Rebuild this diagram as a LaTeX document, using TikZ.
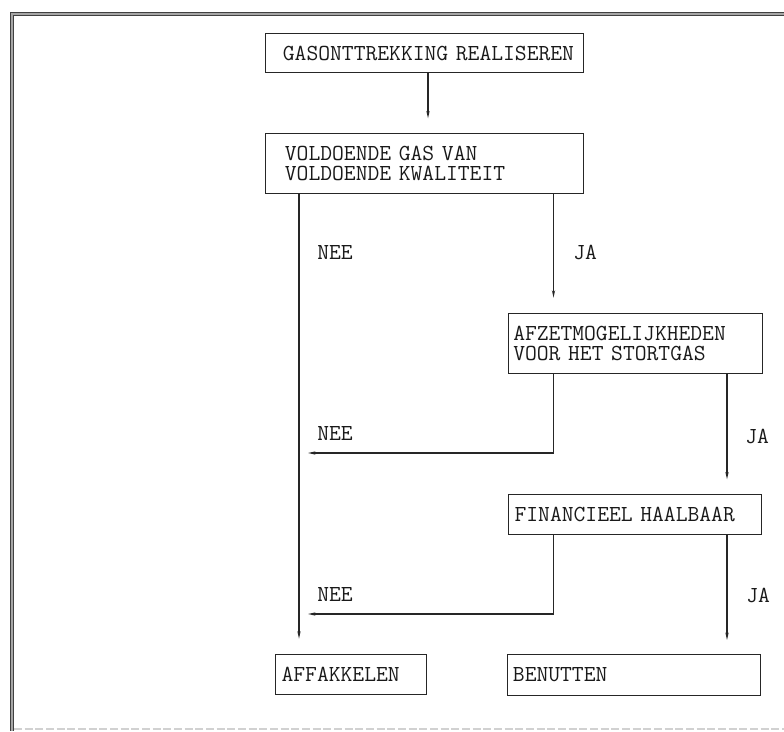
\documentclass[tikz,border=0pt]{standalone}
\usetikzlibrary{arrows.meta}
\begin{document}
\begin{tikzpicture}[x=0.75pt,y=-0.75pt,
  every node/.style={font=\fontsize{17.2}{15.5}\selectfont\ttfamily, text=black!90},
  box/.style={draw=black!85, line width=0.9pt, anchor=north west, inner xsep=0pt, inner ysep=0pt, align=left},
  conn/.style={draw=black!85, line width=0.9pt, -{Stealth[length=5.5pt,width=2.4pt]}},
  lbl/.style={anchor=west, inner sep=0pt}]
\useasboundingbox (0,0) rectangle (784,731);
% frame
\draw[draw=black!75, line width=0.8pt, double=black!35, double distance=1pt] (784,14) -- (12,14) -- (12,731);
\draw[black!18, line width=1pt, dash pattern=on 6pt off 2pt] (14,729) -- (784,729);
% boxes
\node[box, minimum width=238.5pt, text width=238.5pt, minimum height=29.25pt] (b1) at (265,33)
  {\hspace*{13pt}GASONTTREKKING REALISEREN};
\node[box, minimum width=238.5pt, text width=238.5pt, minimum height=45pt] (b2) at (265,133)
  {\hspace*{14.5pt}VOLDOENDE GAS VAN\\\hspace*{14.5pt}VOLDOENDE KWALITEIT};
\node[box, minimum width=190.5pt, text width=190.5pt, minimum height=45pt] (b3) at (508,313)
  {\hspace*{3.5pt}AFZETMOGELIJKHEDEN\\\hspace*{3.5pt}VOOR HET STORTGAS};
\node[box, minimum width=189.75pt, text width=189.75pt, minimum height=30pt] (b4) at (508,494)
  {\hspace*{4.5pt}FINANCIEEL HAALBAAR};
\node[box, minimum width=113.25pt, text width=113.25pt, minimum height=30pt] (b5) at (275,654)
  {\hspace*{4.5pt}AFFAKKELEN};
\node[box, minimum width=189.75pt, text width=189.75pt, minimum height=30.75pt] (b6) at (507,654)
  {\hspace*{4pt}BENUTTEN};
% columns and free ends
\coordinate (cA) at (428,0);
\coordinate (cL) at (299,0);
\coordinate (cM) at (553.5,0);
\coordinate (cR) at (727,0);
\coordinate (n1) at (308,453);
\coordinate (n2) at (308,614);
% connectors
\draw[conn, shorten >=11pt] (b1.south -| cA) -- (b2.north -| cA);
\draw[conn, shorten >=11.5pt] (b2.south -| cL) -- (b5.north -| cL);
\draw[conn, shorten >=11.5pt] (b2.south -| cM) -- (b3.north -| cM);
\draw[conn] (b3.south -| cM) |- (n1);
\draw[conn, shorten >=11pt] (b3.south -| cR) -- (b4.north -| cR);
\draw[conn] (b4.south -| cM) |- (n2);
\draw[conn, shorten >=10.5pt] (b4.south -| cR) -- (b6.north -| cR);
% labels
\node[lbl] (l1) at (317,252) {NEE};
\node[lbl] (l2) at (573,252) {JA};
\node[lbl] (l3) at (317,433) {NEE};
\node[lbl] (l4) at (745,436) {JA};
\node[lbl] (l5) at (317,594) {NEE};
\node[lbl] (l6) at (746,595) {JA};
\end{tikzpicture}
\end{document}
